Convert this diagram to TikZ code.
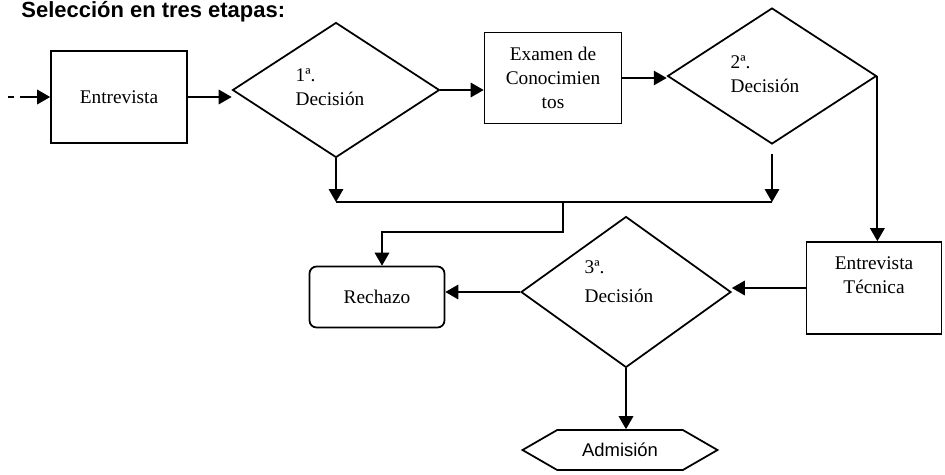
\documentclass[tikz,border=0pt]{standalone}
\usepackage{fontspec}
\setmainfont{Liberation Serif}
\newfontfamily\sansfont{Liberation Sans}
\usetikzlibrary{arrows,calc,shapes.geometric,shapes.symbols,positioning}

\tikzset{
  texto/.style={font=\fontsize{11pt}{13.5pt}\selectfont},
  caja/.style={texto, draw, rectangle, align=center, inner sep=2pt},
  decision/.style={draw, diamond, inner sep=0pt},
  final/.style={draw, signal, signal to=west and east, signal pointer angle=60,
    font=\sansfont\fontsize{10.5pt}{12pt}\selectfont, inner xsep=0pt,
    minimum width=3.9cm, minimum height=0.8cm}
}

\begin{document}
\begin{tikzpicture}[>=triangle 60, x=0.02cm, y=-0.02cm, line width=1pt]
    \useasboundingbox (0,0) rectangle (945,474);

    % titulo
    \node[font=\sansfont\bfseries\fontsize{12.5pt}{14pt}\selectfont, anchor=north east, inner sep=0pt] (titulo) at (286,1) {Selección en tres etapas:};

    % primera fila
    \node[caja, minimum width=2.72cm, minimum height=1.84cm] (entrevista) at (119,97) {Entrevista};
    \node[decision, minimum width=4.14cm, minimum height=2.7cm,
          label={[texto, align=left, xshift=-0.12cm, yshift=0.06cm]center:{1ª.\\Decisión}}] (dec1) at (336,90) {};
    \node[caja, minimum width=2.74cm, minimum height=1.82cm] (examen) at (553,78) {Examen de\\Conocimien\\tos};
    \node[decision, minimum width=4.18cm, minimum height=2.72cm,
          label={[texto, align=left, xshift=-0.14cm, yshift=0.04cm]center:{2ª.\\Decisión}}] (dec2) at (772,76) {};

    % segunda fila
    \node[caja, rounded corners=4pt, minimum width=2.7cm, minimum height=1.22cm] (rechazo) at (377,297) {Rechazo};
    \node[decision, minimum width=4.2cm, minimum height=3.02cm,
          label={[texto, align=left, xshift=-0.14cm, yshift=0.2cm]center:{3ª.\\[3pt]Decisión}}] (dec3) at (626,292) {};
    \node[caja, minimum width=2.7cm, minimum height=1.84cm,
          label={[texto, align=center, yshift=0.26cm]center:{Entrevista\\Técnica}}] (tecnica) at (874,288) {};

    \node[final] (admision) at (620,450) {Admisión};

    % puntos de paso
    \coordinate (inicio) at (8,97);
    \coordinate (nivel) at (0,202);
    \coordinate (cruce1) at (dec1.south |- nivel);
    \coordinate (cruce2) at (dec2.south |- nivel);
    \coordinate (rama) at (563,202);
    \coordinate (codo) at (563,232);

    % flechas
    \draw[->, dash pattern=on 3.4pt off 3.4pt on 30pt off 0pt] (inicio) -- (entrevista.west);
    \draw[->] (entrevista.east) -- (entrevista.east -| dec1.west);
    \draw[->] (dec1.east) -- (dec1.east -| examen.west);
    \draw[->] (examen.east) -- (examen.east -| dec2.west);
    \draw[->] (dec2.east) -- (dec2.east |- tecnica.north);
    \draw[->] (dec1.south) -- (cruce1);
    \draw[->, shorten <=0.18cm] (dec2.south) -- (cruce2);
    \draw (cruce1) -- (cruce2);
    \draw[->] (rama) -- (codo) -| ([xshift=0.1cm]rechazo.north);
    \draw[->] (tecnica.west) -- (tecnica.west -| dec3.east);
    \draw[->] (dec3.west) -- (dec3.west -| rechazo.east);
    \draw[->] (dec3.south) -- (dec3.south |- admision.north);

\end{tikzpicture}
\end{document}
